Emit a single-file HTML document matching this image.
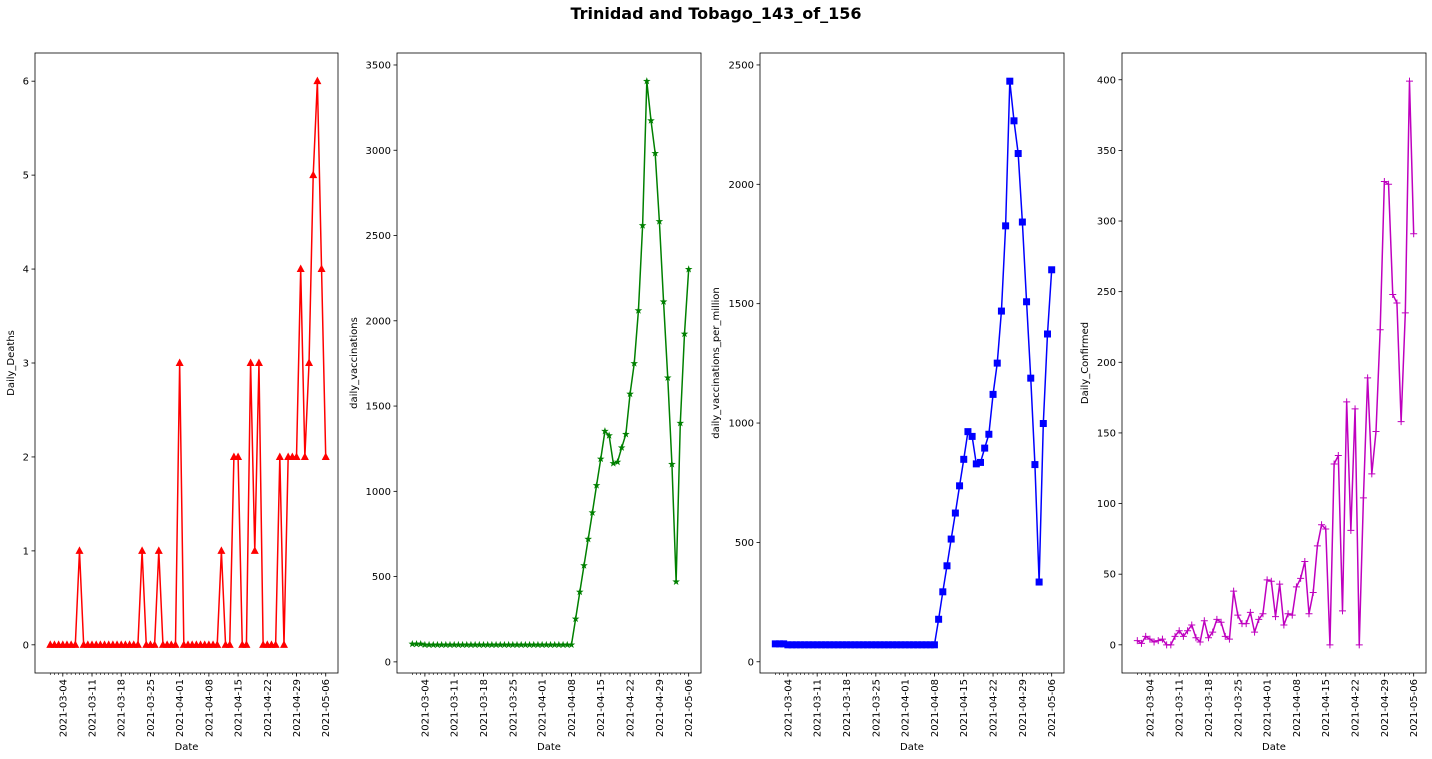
<!DOCTYPE html>
<html><head><meta charset="utf-8"><style>
body{margin:0;background:#fff;}
svg{display:block;font-family:"DejaVu Sans","Liberation Sans",sans-serif;}
</style></head><body>
<svg id="fig" width="1432" height="759" viewBox="0 0 1432 759">
<text x="716" y="19" text-anchor="middle" font-size="16" font-weight="bold">Trinidad and Tobago_143_of_156</text>
</svg>
<script>
const startDate = "2021-03-01";
const dailyDeaths = [0,0,0,0,0,0,0,1,0,0,0,0,0,0,0,0,0,0,0,0,0,0,1,0,0,0,1,0,0,0,0,3,0,0,0,0,0,0,0,0,0,1,0,0,2,2,0,0,3,1,3,0,0,0,0,2,0,2,2,2,4,2,3,5,6,4,2];
const dailyVaccinations = [105,105,105,100,100,100,100,100,100,100,100,100,100,100,100,100,100,100,100,100,100,100,100,100,100,100,100,100,100,100,100,100,100,100,100,100,100,100,100,252,410,565,720,875,1035,1190,1353,1327,1164,1172,1256,1335,1571,1750,2060,2559,3405,3174,2982,2583,2112,1666,1159,470,1400,1923,2302];
const vaccPerMillion = [75,75,75,71,71,71,71,71,71,71,71,71,71,71,71,71,71,71,71,71,71,71,71,71,71,71,71,71,71,71,71,71,71,71,71,71,71,71,71,178,293,402,514,623,737,848,964,944,829,835,895,953,1120,1251,1469,1826,2432,2266,2129,1842,1508,1188,826,334,998,1373,1642];
const dailyConfirmed = [3,1,6,4,2,3,4,0,0,6,10,6,10,14,5,2,17,5,9,18,16,6,4,38,21,15,15,23,9,18,22,46,45,20,43,14,22,21,41,47,59,22,37,70,85,82,0,128,134,24,172,81,167,0,104,189,121,151,223,328,326,248,242,158,235,399,291];
const ticksDeaths = [0,1,2,3,4,5,6];
const ticksVacc = [0,500,1000,1500,2000,2500,3000,3500];
const ticksPerMillion = [0,500,1000,1500,2000,2500];
const ticksConfirmed = [0,50,100,150,200,250,300,350,400];
const dateTickIdx = [3,10,17,24,31,38,45,52,59,66];

const NS="http://www.w3.org/2000/svg";
const svgEl=document.getElementById('fig');
function mk(tag,attrs,parent){const e=document.createElementNS(NS,tag);for(const k in attrs)e.setAttribute(k,attrs[k]);(parent||svgEl).appendChild(e);return e;}
function dateStr(i){const d=new Date(Date.UTC(2021,2,1+i));return d.toISOString().slice(0,10);}

const panels=[
 {name:'deaths',data:dailyDeaths,ticks:ticksDeaths,left:35,right:338,ylabel:'Daily_Deaths',ylx:14,color:'#ff0000',marker:'tri'},
 {name:'vaccinations',data:dailyVaccinations,ticks:ticksVacc,left:397,right:701,ylabel:'daily_vaccinations',ylx:357,color:'#008000',marker:'star'},
 {name:'vacc-per-million',data:vaccPerMillion,ticks:ticksPerMillion,left:760,right:1064,ylabel:'daily_vaccinations_per_million',ylx:719,color:'#0000ff',marker:'sq'},
 {name:'confirmed',data:dailyConfirmed,ticks:ticksConfirmed,left:1122,right:1426,ylabel:'Daily_Confirmed',ylx:1088,color:'#bf00bf',marker:'plus'}
];
const axTop=53,axBot=673;
panels.forEach(p=>{
 const g=mk('g',{});
 
 
 const n=p.data.length;
 const span=(n-1)*1.1;
 const x0=-(n-1)*0.05;
 const xs=i=>1.5+p.left+(i-x0)/span*(p.right-p.left);
 const mn=Math.min(...p.data),mx=Math.max(...p.data);
 const pad=(mx-mn)*0.05;
 const ymin=mn-pad,ymax=mx+pad;
 const ys=v=>axBot-(v-ymin)/(ymax-ymin)*(axBot-axTop);
 for(let i=0;i<n;i++){const t=mk('line',{x1:xs(i),x2:xs(i),y1:axBot,y2:axBot+2,stroke:'#000','stroke-width':0.6},g);
  
  }
 dateTickIdx.forEach(i=>{
  const t=mk('line',{x1:xs(i),x2:xs(i),y1:axBot,y2:axBot+3.5,stroke:'#000','stroke-width':0.8},g);
  
  
  const tx=mk('text',{x:xs(i)+3.5,y:axBot+6,'font-size':10,'text-anchor':'end',transform:`rotate(-90 ${xs(i)+3.5} ${axBot+6})`},g);
  
  
  tx.textContent=dateStr(i);
 });
 p.ticks.forEach(v=>{
  const y=ys(v);
  const t=mk('line',{x1:p.left-3.5,x2:p.left,y1:y,y2:y,stroke:'#000','stroke-width':0.8},g);
  
  
  const tx=mk('text',{x:p.left-6,y:y+3.5,'font-size':10,'text-anchor':'end'},g);
  
  
  tx.textContent=v;
 });
 const xl=mk('text',{x:(p.left+p.right)/2,y:750,'font-size':10,'text-anchor':'middle'},g);
 
 
 xl.textContent='Date';
 const cy=(axTop+axBot)/2;
 const yl=mk('text',{x:p.ylx,y:cy,'font-size':10,'text-anchor':'middle',transform:`rotate(-90 ${p.ylx} ${cy})`},g);
 
 
 yl.textContent=p.ylabel;
 const pts=p.data.map((v,i)=>xs(i).toFixed(2)+','+ys(v).toFixed(2)).join(' ');
 const line=mk('polyline',{points:pts,fill:'none',stroke:p.color,'stroke-width':1.5,'stroke-linejoin':'round'},g);
 
 
 p.data.forEach((v,i)=>{
  const x=xs(i),y=ys(v);let m;
  if(p.marker==='tri'){m=mk('polygon',{points:`${x},${y-4.5} ${x-4},${y+3} ${x+4},${y+3}`,fill:p.color},g);}
  else if(p.marker==='sq'){m=mk('rect',{x:x-3.5,y:y-3.5,width:7,height:7,fill:p.color},g);}
  else if(p.marker==='star'){let s='';for(let k=0;k<10;k++){const r=k%2?1.6:4;const a=-Math.PI/2+k*Math.PI/5;s+=(x+r*Math.cos(a)).toFixed(2)+','+(y+r*Math.sin(a)).toFixed(2)+' ';}
   m=mk('polygon',{points:s,fill:p.color},g);}
  else {m=mk('path',{d:`M${x-3.5},${y}H${x+3.5}M${x},${y-3.5}V${y+3.5}`,stroke:p.color,'stroke-width':1},g);}
  
  
 });
 const fr=mk('rect',{x:p.left,y:axTop,width:p.right-p.left,height:axBot-axTop,fill:'none',stroke:'#000','stroke-width':0.8},g);
 
 
});
</script>
</body></html>
